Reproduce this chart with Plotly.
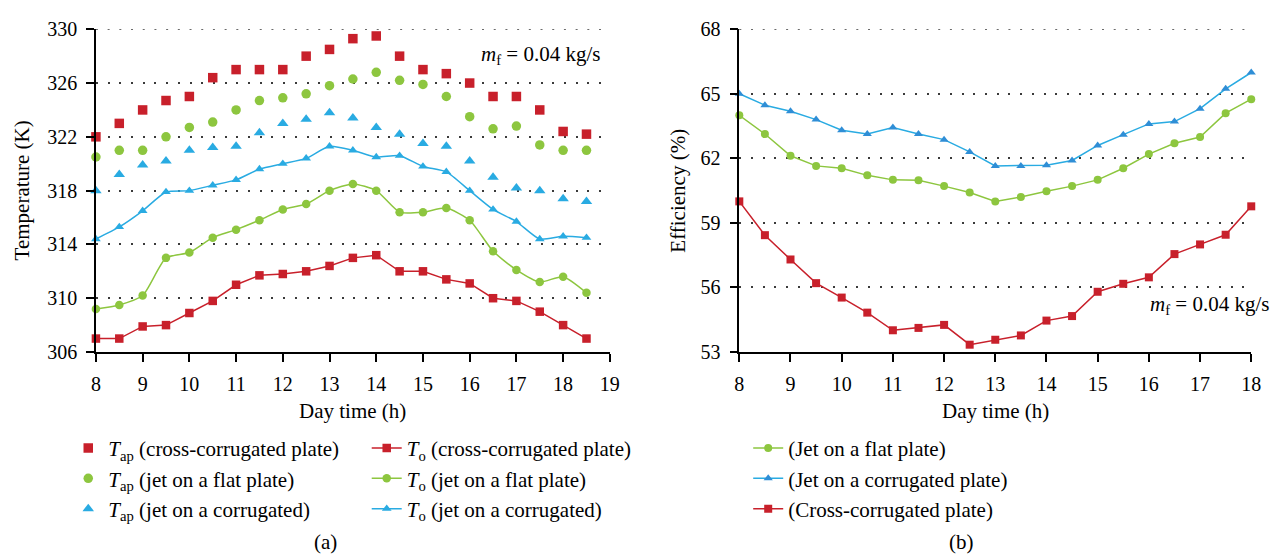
import plotly.graph_objects as go

# ---- data -------------------------------------------------------------
hours_a = [8, 8.5, 9, 9.5, 10, 10.5, 11, 11.5, 12, 12.5, 13, 13.5, 14,
           14.5, 15, 15.5, 16, 16.5, 17, 17.5, 18, 18.5]
hours_b = [8, 8.5, 9, 9.5, 10, 10.5, 11, 11.5, 12, 12.5, 13, 13.5, 14,
           14.5, 15, 15.5, 16, 16.5, 17, 17.5, 18]

# absorber plate temperature (K)
tap_cross = [322.0, 323.0, 324.0, 324.7, 325.0, 326.4, 327.0, 327.0, 327.0, 328.0, 328.5,
             329.3, 329.5, 328.0, 327.0, 326.7, 326.0, 325.0, 325.0, 324.0, 322.4, 322.2]
tap_flat = [320.5, 321.0, 321.0, 322.0, 322.7, 323.1, 324.0, 324.7, 324.9, 325.2, 325.8,
            326.3, 326.8, 326.2, 325.9, 325.0, 323.5, 322.6, 322.8, 321.4, 321.0, 321.0]
tap_corr = [318.0, 319.2, 319.9, 320.2, 321.0, 321.2, 321.3, 322.3, 323.0, 323.3, 323.8,
            323.4, 322.7, 322.2, 321.5, 321.3, 320.2, 319.0, 318.2, 318.0, 317.4, 317.2]

# outlet air temperature (K)
to_cross = [307.0, 307.0, 307.9, 308.0, 308.9, 309.8, 311.0, 311.7, 311.8, 312.0, 312.4,
            313.0, 313.2, 312.0, 312.0, 311.4, 311.1, 310.0, 309.8, 309.0, 308.0, 307.0]
to_flat = [309.2, 309.5, 310.2, 313.0, 313.4, 314.5, 315.1, 315.8, 316.6, 317.0, 318.0,
           318.5, 318.0, 316.4, 316.4, 316.7, 315.8, 313.5, 312.1, 311.2, 311.6, 310.4]
to_corr = [314.4, 315.3, 316.5, 317.9, 318.0, 318.4, 318.8, 319.6, 320.0, 320.4, 321.3,
           321.0, 320.5, 320.6, 319.8, 319.4, 318.0, 316.6, 315.7, 314.4, 314.6, 314.5]

# thermal efficiency (%)
eff_flat = [64.0, 63.13, 62.12, 61.65, 61.54, 61.21, 61.0, 60.98, 60.71, 60.41, 60.0,
            60.2, 60.47, 60.71, 61.0, 61.54, 62.2, 62.7, 62.99, 64.1, 64.75]
eff_corr = [65.0, 64.47, 64.19, 63.8, 63.31, 63.13, 63.43, 63.13, 62.87, 62.3, 61.65,
            61.65, 61.68, 61.9, 62.6, 63.1, 63.6, 63.71, 64.31, 65.23, 65.99]
eff_cross = [60.0, 58.43, 57.3, 56.2, 55.53, 54.83, 54.01, 54.12, 54.26, 53.34, 53.57,
             53.77, 54.46, 54.67, 55.8, 56.17, 56.47, 57.55, 58.0, 58.45, 59.77]

temp_ticks = [306, 310, 314, 318, 322, 326, 330]
eff_ticks = [53, 56, 59, 62, 65, 68]

# ---- styling ----------------------------------------------------------
W, H = 1282, 558
FONT = "Liberation Serif"
FS = 21          # titles, legends, notes
TFS = 20         # tick labels
RED, GREEN, BLUE = "#C8202B", "#8DC63F", "#29ABE2"
BLUE_MK = "#2F8ED6"
GRID_COL, GRID_W, GRID_DASH = "#3a3a3a", 1.5, "2px,9.7px"


def px(x):
    return x / W


def py(y):
    return 1 - y / H


fig = go.Figure()

# panel (a): absorber temperature, markers only
for name, ys, col, sym in [
    ("<i>T</i><sub>ap</sub> (cross-corrugated plate)", tap_cross, RED, "square"),
    ("<i>T</i><sub>ap</sub> (jet on a flat plate)", tap_flat, GREEN, "circle"),
    ("<i>T</i><sub>ap</sub> (jet on a corrugated)", tap_corr, BLUE, "triangle-up"),
]:
    fig.add_trace(go.Scatter(
        x=hours_a, y=ys, name=name, mode="markers", cliponaxis=False,
        marker=dict(color=col, symbol=sym, size=9.5 if sym != "triangle-up" else 10),
        xaxis="x", yaxis="y", legend="legend"))

# panel (a): outlet temperature, lines with markers
for name, ys, col, sym, shape in [
    ("<i>T</i><sub>o</sub> (cross-corrugated plate)", to_cross, RED, "square", "linear"),
    ("<i>T</i><sub>o</sub> (jet on a flat plate)", to_flat, GREEN, "circle", "spline"),
    ("<i>T</i><sub>o</sub> (jet on a corrugated)", to_corr, BLUE, "triangle-up", "spline"),
]:
    fig.add_trace(go.Scatter(
        x=hours_a, y=ys, name=name, mode="lines+markers", cliponaxis=False,
        line=dict(color=col, width=1.5, shape=shape, smoothing=0.6),
        marker=dict(color=col, symbol=sym, size=8.5),
        xaxis="x", yaxis="y", legend="legend2"))

# panel (b): efficiency
for name, ys, col, mcol, sym in [
    ("(Jet on a flat plate)", eff_flat, GREEN, GREEN, "circle"),
    ("(Jet on a corrugated plate)", eff_corr, BLUE, BLUE_MK, "triangle-up"),
    ("(Cross-corrugated plate)", eff_cross, RED, RED, "square"),
]:
    fig.add_trace(go.Scatter(
        x=hours_b, y=ys, name=name, mode="lines+markers", cliponaxis=False,
        line=dict(color=col, width=1.5),
        marker=dict(color=mcol, symbol=sym, size=8),
        xaxis="x2", yaxis="y2", legend="legend3"))

axis_common = dict(
    showline=True, linecolor="black", linewidth=1.5,
    ticks="outside", ticklen=8, tickwidth=1.5, tickcolor="black",
    tickfont=dict(family=FONT, size=TFS, color="black"),
    ticklabelstandoff=5, zeroline=False,
)
ygrid = dict(showgrid=True, gridcolor=GRID_COL, gridwidth=GRID_W, griddash=GRID_DASH)

legend_common = dict(xanchor="left", yanchor="top", bgcolor="rgba(0,0,0,0)",
                     font=dict(family=FONT, size=FS, color="black"), tracegroupgap=0)

fig.update_layout(
    width=W, height=H,
    margin=dict(l=0, r=0, t=0, b=0),
    paper_bgcolor="white", plot_bgcolor="white",
    font=dict(family=FONT, size=FS, color="black"),
    xaxis=dict(domain=[px(92), px(612)], range=[8, 19], tick0=8, dtick=1,
               showgrid=False, anchor="y", **axis_common),
    yaxis=dict(domain=[py(355), py(19)], range=[306, 330], tickvals=temp_ticks,
               anchor="x", **ygrid, **axis_common),
    xaxis2=dict(domain=[px(743), px(1261)], range=[8, 18], tick0=8, dtick=1,
                showgrid=False, anchor="y2", **axis_common),
    yaxis2=dict(domain=[py(355), py(19)], range=[53, 68], tickvals=eff_ticks,
                anchor="x2", **ygrid, **axis_common),
    legend=dict(x=px(64), y=py(434), **legend_common),
    legend2=dict(x=px(366), y=py(434), **legend_common),
    legend3=dict(x=px(752), y=py(434), **legend_common),
    showlegend=True,
)

# dotted grid line along the top edge of each panel (range maximum)
for xr, yr, top in [("x domain", "y", temp_ticks[-1]), ("x2 domain", "y2", eff_ticks[-1])]:
    fig.add_shape(type="line", xref=xr, yref=yr, x0=0, x1=1, y0=top, y1=top,
                  layer="below",
                  line=dict(color=GRID_COL, width=GRID_W, dash=GRID_DASH))

annots = [
    dict(x=px(17), y=py(187), text="Temperature (K)", textangle=-90),
    dict(x=px(352), y=py(416), text="Day time (h)"),
    dict(x=px(681), y=py(187), text="Efficiency (%)", textangle=-90),
    dict(x=px(1002), y=py(416), text="Day time (h)"),
    dict(x=px(324), y=py(553), text="(a)"),
    dict(x=px(968), y=py(553), text="(b)"),
    dict(x=px(542), y=py(46), text="<i>m</i><sub>f</sub> = 0.04 kg/s"),
    dict(x=px(1219), y=py(306), text="<i>m</i><sub>f</sub> = 0.04 kg/s"),
]
for a in annots:
    fig.add_annotation(xref="paper", yref="paper", showarrow=False,
                       xanchor="center", yanchor="middle",
                       font=dict(family=FONT, size=FS, color="black"), **a)

fig.write_html("out.html")
